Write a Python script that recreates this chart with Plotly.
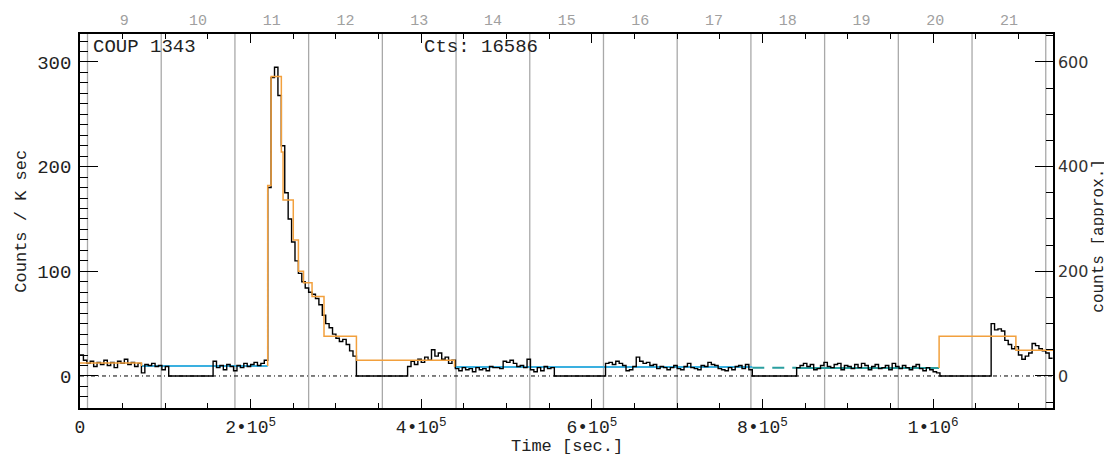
import plotly.graph_objects as go

# ---------------- data ----------------
bin_width = 4000  # s, light-curve bin width

# start times (s) of each continuous data segment of the binned light curve
seg_starts = [0, 156000, 384000, 616000, 840000, 1068000]

# count rates (counts / ks) per bin
seg1 = [20, 15, 12, 14, 9, 13, 11, 15, 10, 13, 8, 14, 12, 16, 11, 13, 9, 12,
        3, 11, 10, 12, 9, 10, 6, 9]
seg2 = [14, 8, 10, 6, 11, 9, 5, 10, 8, 12, 9, 11, 13, 10, 12, 15,
        180, 285, 295, 268, 220, 175, 150, 128, 110, 98, 90, 84, 80, 78, 74,
        68, 58, 50, 46, 40, 36, 33, 35, 30, 24, 19]
seg3 = [9, 14, 11, 16, 13, 18, 15, 25, 19, 22, 16, 18, 12, 15,
        7, 5, 8, 6, 7, 4, 8, 6, 7, 5, 9, 8, 8, 7, 14, 13, 15, 12, 9, 10, 8,
        16, 6, 4, 8, 5, 9, 7, 8]
seg4 = [12, 13, 11, 14, 12, 10, 5, 6, 9, 18, 14, 12, 13, 10, 11, 7, 9, 8, 6,
        8, 10, 7, 6, 9, 12, 8, 7, 6, 10, 9, 13, 11, 10, 7, 6, 5, 8, 6, 9, 10,
        7, 11, 6]
seg5 = [8, 10, 12, 9, 11, 6, 7, 10, 13, 9, 8, 11, 12, 6, 10, 9, 7, 11, 8, 12,
        10, 6, 9, 11, 7, 8, 10, 6, 12, 9, 7, 10, 8, 6, 9, 11, 7, 5, 8, 6, 4, 3]
seg6 = [50, 44, 45, 43, 34, 30, 26, 28, 20, 16, 19, 22, 31, 29, 26, 24, 22, 17]
segments = [seg1, seg2, seg3, seg4, seg5, seg6]

# Bayesian-block levels (orange): edges (s) and levels (counts / ks)
orange1_edges = [0, 72000]
orange1_levels = [12.5]
orange2_edges = [220000, 224000, 236000, 238000, 250000, 256000, 262000,
                 272000, 286000, 324000, 439000]
orange2_levels = [182, 286, 214, 168, 130, 100, 89, 76, 38, 15]
orange3_edges = [1007000, 1097000, 1140500]
orange3_levels = [38, 24.5]

# constant (quiescent) levels
cyan1_edges, cyan1_level = [72000, 220000], 9.5
cyan2_edges, cyan2_level = [439000, 788000], 8.6
teal_gap_edges, teal_gap_level = [788000, 840000], 7.8
teal_edges, teal_level = [840000, 1007000], 7.5

# observation days (top axis)
day_labels = ["9", "10", "11", "12", "13", "14", "15", "16", "17", "18",
              "19", "20", "21"]
day_start = 8800     # s, first day boundary
day_length = 86400   # s

x_tickvals = [0, 200000, 400000, 600000, 800000, 1000000]
x_ticktext = ["0", "2•10<sup>5</sup>", "4•10<sup>5</sup>", "6•10<sup>5</sup>",
              "8•10<sup>5</sup>", "1•10<sup>6</sup>"]
y_tickvals = [0, 100, 200, 300]
y2_tickvals = [0, 200, 400, 600]

x_range = [0, 1140500]
y_range = [-30.6, 326.7]
counts_factor = 2  # counts per bin = rate * 2 ks

source_name = "COUP 1343"
total_counts = "Cts: 16586"

# ---------------- build paths ----------------
bx, by = [], []
for start, vals in zip(seg_starts, segments):
    for i, v in enumerate(vals):
        bx.append(start + i * bin_width)
        by.append(v)
    end = start + len(vals) * bin_width
    if start == seg_starts[-1]:
        bx.append(end); by.append(vals[-1])
    else:
        bx.append(end); by.append(0)


def block_path(edges, levels, before=None, after=None):
    xs, ys = [], []
    if before is not None:
        xs.append(edges[0]); ys.append(before)
    for i, lv in enumerate(levels):
        xs += [edges[i], edges[i + 1]]
        ys += [lv, lv]
    if after is not None:
        xs.append(edges[-1]); ys.append(after)
    return xs, ys


ox, oy = [], []
for e, l, b, a in [(orange1_edges, orange1_levels, None, cyan1_level),
                   (orange2_edges, orange2_levels, cyan1_level, cyan2_level),
                   (orange3_edges, orange3_levels, teal_level, None)]:
    xs, ys = block_path(e, l, b, a)
    ox += xs + [None]
    oy += ys + [None]

ORANGE = "#F2A03D"
CYAN = "#3AB0E0"
TEAL = "#2A9FA0"
GREY = "#A9A9A9"
MONO = "Liberation Mono"
TXT = "#222"

fig = go.Figure()

# zero line
fig.add_trace(go.Scatter(x=x_range, y=[0, 0], mode="lines",
                         line=dict(color="black", width=1, dash="4px,3px,1px,3px"),
                         hoverinfo="skip"))
# quiescent levels
fig.add_trace(go.Scatter(x=cyan1_edges + [None] + cyan2_edges,
                         y=[cyan1_level] * 2 + [None] + [cyan2_level] * 2,
                         mode="lines", line=dict(color=CYAN, width=2)))
fig.add_trace(go.Scatter(x=teal_gap_edges, y=[teal_gap_level] * 2, mode="lines",
                         line=dict(color=TEAL, width=2, dash="12px,8px")))
fig.add_trace(go.Scatter(x=teal_edges, y=[teal_level] * 2, mode="lines",
                         line=dict(color=TEAL, width=2)))
# light curve
fig.add_trace(go.Scatter(x=bx, y=by, mode="lines",
                         line=dict(color="black", width=1.4, shape="hv")))
# bayesian blocks
fig.add_trace(go.Scatter(x=ox, y=oy, mode="lines", line=dict(color=ORANGE, width=1.5)))
# dummy traces for secondary axes
fig.add_trace(go.Scatter(x=[None], y=[None], xaxis="x2", yaxis="y", showlegend=False))
fig.add_trace(go.Scatter(x=[None], y=[None], xaxis="x", yaxis="y2", showlegend=False))

# day boundaries
for k in range(len(day_labels) + 1):
    fig.add_shape(type="line", xref="x", yref="paper",
                  x0=day_start + k * day_length, x1=day_start + k * day_length,
                  y0=0, y1=1, line=dict(color=GREY, width=1.3), layer="below")

day_centers = [day_start + (k + 0.5) * day_length for k in range(len(day_labels))]

# the page body adds an 8 px margin, so the figure is 8 px smaller than the window
fig.update_layout(
    width=1104, height=449,
    margin=dict(l=72, r=59, t=26, b=49, autoexpand=False),
    paper_bgcolor="white", plot_bgcolor="white",
    showlegend=False,
    font=dict(family=MONO, size=18, color=TXT),
    xaxis=dict(range=x_range, tickvals=x_tickvals, ticktext=x_ticktext,
               ticks="inside", ticklen=9, tickwidth=1.3, tickcolor="black",
               minor=dict(ticks="inside", ticklen=5, tickwidth=1.3, dtick=50000, tick0=0,
                          tickcolor="black"),
               showline=True, linecolor="black", linewidth=1.5, mirror="ticks",
               showgrid=False, zeroline=False, automargin=False,
               tickfont=dict(family=MONO, size=18, color=TXT),
               ticklabelstandoff=2),
    xaxis2=dict(range=x_range, overlaying="x", side="top", tickvals=day_centers,
                ticktext=day_labels, ticks="", showline=False, showgrid=False,
                zeroline=False, automargin=False, ticklabelstandoff=5,
                tickfont=dict(family=MONO, size=15, color="#A0A0A0")),
    yaxis=dict(range=y_range, tickvals=y_tickvals, ticks="inside", ticklen=18,
               tickwidth=1.3, tickcolor="black",
               minor=dict(ticks="inside", ticklen=8, tickwidth=1.1, dtick=10, tick0=0,
                          tickcolor="black"),
               showline=True, linecolor="black", linewidth=1.5,
               showgrid=False, zeroline=False, automargin=False,
               tickfont=dict(family=MONO, size=19, color=TXT), ticklabelstandoff=3),
    yaxis2=dict(range=[y_range[0] * counts_factor, y_range[1] * counts_factor],
                overlaying="y", side="right", tickvals=y2_tickvals,
                ticks="inside", ticklen=18, tickwidth=1.3, tickcolor="black",
                minor=dict(ticks="inside", ticklen=7, tickwidth=1.1, dtick=50, tick0=0,
                           tickcolor="black"),
                showline=True, linecolor="black", linewidth=1.5,
                showgrid=False, zeroline=False, automargin=False,
                tickfont=dict(family="DejaVu Sans", size=16, color="#333")),
    annotations=[
        dict(text=source_name, xref="paper", yref="paper", x=0.011, y=1.0,
             xanchor="left", yanchor="top", showarrow=False,
             font=dict(family=MONO, size=19, color=TXT)),
        dict(text=total_counts, xref="paper", yref="paper", x=0.351, y=1.0,
             xanchor="left", yanchor="top", showarrow=False,
             font=dict(family=MONO, size=19, color=TXT)),
        dict(text="Time [sec.]", xref="paper", yref="paper", x=0.5, y=-0.103,
             xanchor="center", yanchor="middle", showarrow=False,
             font=dict(family=MONO, size=17, color=TXT)),
        dict(text="Counts / K sec", xref="paper", yref="paper", x=-0.061, y=0.5,
             xanchor="center", yanchor="middle", textangle=-90, showarrow=False,
             font=dict(family=MONO, size=17, color=TXT)),
        dict(text="counts [approx.]", xref="paper", yref="paper", x=1.047, y=0.46,
             xanchor="center", yanchor="middle", textangle=-90, showarrow=False,
             font=dict(family=MONO, size=16, color=TXT)),
    ],
)

fig.write_html("out.html")
